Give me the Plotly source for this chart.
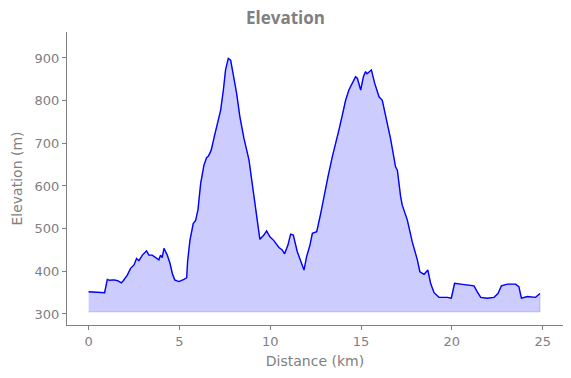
import plotly.graph_objects as go

# Distance along route (km)
dist = [0, 0.4, 0.75, 0.88, 1.03, 1.15, 1.4, 1.6, 1.8, 1.91, 2.13, 2.31, 2.5, 2.64, 2.77,
        2.96, 3.19, 3.32, 3.5, 3.69, 3.87, 3.96, 4.05, 4.15, 4.33, 4.48, 4.61, 4.74, 4.97,
        5.25, 5.40, 5.45, 5.58, 5.76, 5.89, 6.02, 6.17, 6.35, 6.5, 6.6, 6.75, 6.9, 7.09,
        7.27, 7.42, 7.54, 7.69, 7.82, 7.97, 8.15, 8.33, 8.55, 8.83, 9.01, 9.2, 9.43, 9.65,
        9.8, 9.98, 10.2, 10.48, 10.66, 10.79, 10.98, 11.12, 11.27, 11.49, 11.67, 11.86,
        12.0, 12.19, 12.32, 12.56, 12.78, 12.96, 13.05, 13.18, 13.42, 13.6, 13.78, 13.97,
        14.15, 14.33, 14.52, 14.7, 14.8, 14.98, 15.13, 15.25, 15.33, 15.57, 15.75, 15.99,
        16.17, 16.35, 16.63, 16.9, 17.0, 17.18, 17.27, 17.55, 17.82, 18.1, 18.24, 18.47,
        18.68, 18.83, 19.02, 19.29, 19.75, 19.97, 20.15, 20.48, 20.85, 21.22, 21.4, 21.59,
        21.95, 22.32, 22.54, 22.73, 23.06, 23.51, 23.69, 23.83, 24.16, 24.61, 24.85]

# Elevation (m)
elev = [352, 351, 350, 350, 381, 379, 380, 378, 373, 378, 391, 407, 415, 430, 425,
        438, 448, 438, 438, 433, 427, 438, 432, 454, 438, 419, 395, 380, 376,
        381, 385, 423, 473, 512, 519, 544, 606, 649, 667, 670, 684, 712, 743,
        778, 825, 872, 899, 895, 860, 817, 762, 712, 661, 606, 536, 475, 485,
        495, 481, 472, 456, 450, 441, 462, 487, 485, 446, 427, 403,
        434, 462, 489, 493, 536, 575, 598, 622, 669, 704, 731, 766,
        801, 825, 841, 856, 852, 825, 856, 868, 863, 872, 841, 809,
        801, 766, 710, 645, 637, 575, 555, 520, 469, 427, 399, 393,
        403, 372, 350, 339, 339, 337, 372, 370, 368, 366, 352, 339,
        337, 339, 348, 366, 370, 370, 364, 337, 341, 339, 348]

fill_base = 305

x_ticks = [0, 5, 10, 15, 20, 25]
y_ticks = [300, 400, 500, 600, 700, 800, 900]

gray = "#808080"

fig = go.Figure()
# filled area (polygon down to base)
fig.add_trace(go.Scatter(
    x=dist + dist[::-1],
    y=elev + [fill_base] * len(dist),
    fill="toself",
    fillcolor="rgba(0,0,255,0.2)",
    line=dict(color="rgba(0,0,255,0.2)", width=1),
    mode="lines",
    hoverinfo="skip",
    showlegend=False,
))
fig.add_trace(go.Scatter(
    x=dist, y=elev, mode="lines",
    line=dict(color="#0000ff", width=1.4),
    showlegend=False,
))

fig.update_layout(
    width=571, height=378,
    margin=dict(l=67, r=8, t=32, b=53),
    paper_bgcolor="white", plot_bgcolor="white",
    font=dict(family="DejaVu Sans", size=13, color=gray),
    title=dict(text="<b>Elevation</b>", x=0.5, xanchor="center", y=1 - 18 / 378,
               yanchor="middle", xref="container", yref="container",
               font=dict(family="Open Sans", size=17, color=gray)),
    xaxis=dict(range=[-1.19, 26.12], tickvals=x_ticks, ticks="outside", ticklen=4,
               tickcolor=gray, showline=True, linecolor=gray, linewidth=1,
               showgrid=False, zeroline=False, automargin=False,
               tickfont=dict(size=13, color=gray),
               title=dict(text="Distance (km)", standoff=8,
                          font=dict(size=14, color=gray))),
    yaxis=dict(range=[274.2, 960.9], tickvals=y_ticks, ticks="outside", ticklen=4,
               tickcolor=gray, showline=True, linecolor=gray, linewidth=1,
               showgrid=False, zeroline=False, automargin=False,
               tickfont=dict(size=13, color=gray),
               title=dict(text="Elevation (m)", standoff=8,
                          font=dict(size=14, color=gray))),
)

fig.write_html("out.html", config={"displayModeBar": False},
               post_script="document.body.style.margin='0';document.body.style.padding='0';")
